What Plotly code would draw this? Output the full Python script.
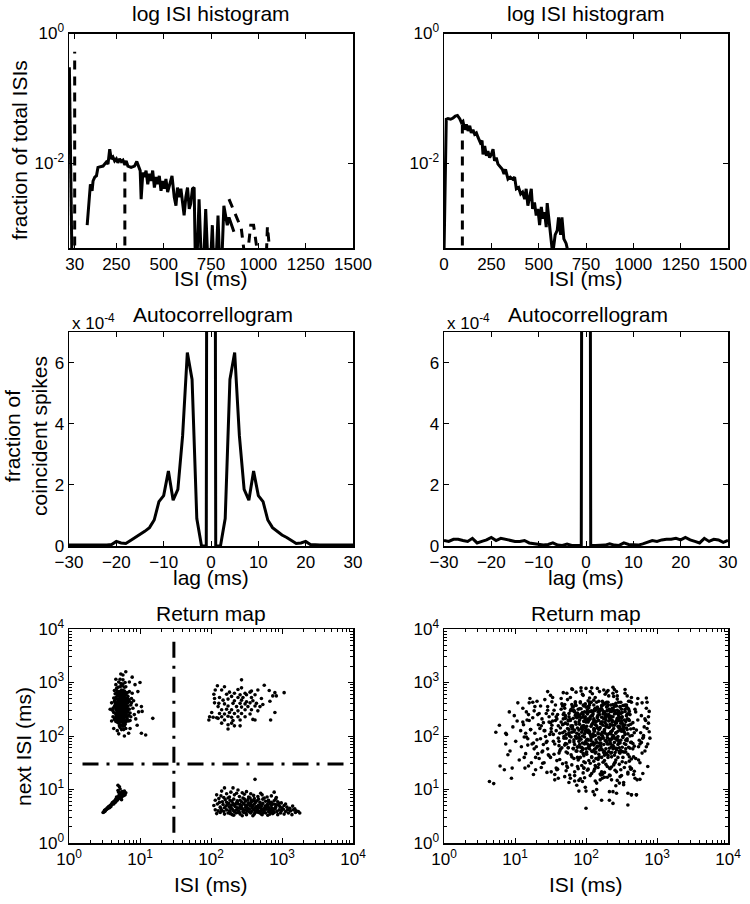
import plotly.graph_objects as go

FONT = "Liberation Sans, Arial, Helvetica, sans-serif"
W, H = 750, 904

# ---------------------------------------------------------------- data
# Top-left log ISI histogram: (ISI ms, log10 fraction of total ISIs)
hist1_burst = [(2, -0.52), (16, -3.6)]
hist1_main = [(96, -2.95), (113, -2.32), (122, -2.42), (127, -2.27), (136, -2.21), (145, -2.19),
              (153, -2.06), (166, -2.05), (180, -2.04), (197, -1.98), (206, -2.01), (215, -1.78),
              (223, -1.93), (232, -1.90), (241, -1.96), (250, -1.93), (258, -1.99), (267, -1.93),
              (276, -1.97), (285, -1.95), (293, -2.01), (302, -1.96), (311, -2.04), (328, -2.06),
              (346, -2.04), (358, -1.97), (369, -2.04), (376, -2.11), (381, -2.55), (390, -2.14),
              (398, -2.21), (407, -2.11), (416, -2.32), (425, -2.16), (433, -2.27), (442, -2.11),
              (451, -2.37), (460, -2.21), (468, -2.32), (477, -2.19), (486, -2.42), (495, -2.27),
              (503, -2.39), (512, -2.24), (521, -2.44), (530, -2.34), (544, -2.19), (556, -2.52),
              (565, -2.65), (573, -2.37), (582, -2.52), (591, -2.39), (600, -2.62), (608, -2.80),
              (617, -2.52), (626, -2.37), (635, -2.70), (643, -2.62), (652, -2.39), (661, -2.37),
              (670, -4.0), (687, -2.55), (705, -4.0), (722, -2.70), (740, -4.0), (757, -2.95),
              (770, -4.0), (787, -2.80), (801, -4.0), (818, -2.65), (836, -2.95), (845, -2.83),
              (871, -3.05)]
hist1_marker_a = [(30, -4.0), (30, -0.28)]
hist1_marker_b = [(295, -4.0), (295, -1.98)]
hist1_tail = [(845, -2.55), (881, -2.80), (910, -3.00), (935, -3.60), (960, -2.95), (975, -2.95),
              (992, -3.30), (1040, -3.60), (1048, -2.97), (1062, -3.40)]

# Top-right log ISI histogram
hist2_main = [(0, -3.4), (12, -1.32), (21, -1.31), (35, -1.32), (48, -1.30), (60, -1.27), (71, -1.26),
              (83, -1.31), (92, -1.37), (100, -1.35), (109, -1.48), (118, -1.40), (127, -1.50),
              (136, -1.42), (144, -1.53), (153, -1.48), (162, -1.55), (171, -1.53), (180, -1.60),
              (192, -1.68), (201, -1.65), (206, -1.86), (215, -1.73), (224, -1.88), (232, -1.81),
              (241, -1.91), (250, -1.86), (259, -1.78), (267, -1.96), (276, -1.91), (285, -2.01),
              (297, -2.06), (308, -2.09), (317, -2.16), (325, -2.09), (338, -2.24), (350, -2.21),
              (362, -2.24), (373, -2.21), (382, -2.39), (394, -2.37), (405, -2.47), (415, -2.44),
              (426, -2.55), (434, -2.39), (443, -2.65), (452, -2.50), (461, -2.39), (468, -2.70),
              (478, -2.60), (487, -2.80), (496, -2.70), (505, -2.95), (514, -2.67), (522, -2.85),
              (531, -2.75), (540, -2.98), (545, -2.61), (574, -3.4), (587, -3.10), (598, -3.03),
              (605, -2.83), (616, -3.10), (623, -2.83), (633, -3.16), (645, -3.23), (658, -3.4)]
hist2_marker = [(97, -4.0), (97, -1.35)]

hist_xticks_left = [30, 250, 500, 750, 1000, 1250, 1500]
hist_xticks_right = [0, 250, 500, 750, 1000, 1250, 1500]

# Autocorrellograms (fraction of coincident spikes, units of 1e-4)
lags = list(range(-30, 31))
ac1 = [0.03, 0.03, 0.02, 0.03, 0.03, 0.02, 0.03, 0.03, 0.03, 0.05, 0.15, 0.10, 0.08, 0.18,
       0.28, 0.36, 0.48, 0.60, 0.85, 1.45, 1.65, 2.45, 1.50, 1.85, 3.60, 6.33, 5.45, 0.90,
       0.0, 0.0, 100.0, 0.0, 0.0, 0.90, 5.45, 6.33, 3.60, 1.85, 1.50, 2.45, 1.65, 1.45, 0.85,
       0.60, 0.48, 0.36, 0.28, 0.18, 0.08, 0.10, 0.15, 0.05, 0.03, 0.03, 0.03, 0.02, 0.03,
       0.03, 0.02, 0.03, 0.03]
ac2 = [0.18, 0.15, 0.22, 0.22, 0.18, 0.15, 0.25, 0.10, 0.15, 0.20, 0.28, 0.18, 0.25, 0.22,
       0.20, 0.15, 0.15, 0.18, 0.10, 0.08, 0.04, 0.03, 0.05, 0.10, 0.03, 0.02, 0.06, 0.02,
       0.02, 0.02, 100.0, 0.02, 0.02, 0.02, 0.03, 0.07, 0.03, 0.02, 0.10, 0.05, 0.04, 0.03,
       0.07, 0.12, 0.18, 0.15, 0.20, 0.22, 0.22, 0.25, 0.20, 0.28, 0.20, 0.15, 0.10, 0.25,
       0.15, 0.22, 0.20, 0.12, 0.18]

# Return maps: (100*log10 ISI, 100*log10 next ISI)
rm1_cluster_a = [(74,255),(70,262),(78,248),(66,240),(81,270),(72,231),(76,285),(68,275),(83,256),(71,219),
    (79,228),(65,258),(73,298),(77,266),(69,246),(84,239),(62,252),(75,240),(80,292),(67,289),
    (72,270),(76,222),(70,236),(78,276),(64,265),(82,249),(74,212),(71,283),(79,259),(68,226),
    (73,246),(75,261),(69,253),(77,235),(66,272),(81,228),(70,301),(85,265),(63,244),(76,250),
    (72,259),(78,238),(74,277),(67,233),(80,214),(71,245),(75,296),(79,282),(65,279),(83,274),
    (73,226),(77,257),(70,268),(68,210),(82,236),(76,243),(74,264),(66,249),(80,253),(72,238),
    (87,258),(69,291),(78,266),(75,229),(71,254),(64,231),(79,245),(73,283),(77,212),(70,242),
    (84,228),(68,262),(76,271),(72,249),(81,261),(74,236),(67,256),(79,300),(86,243),(71,229),
    (75,252),(73,268),(78,219),(69,238),(82,281),(65,262),(76,258),(70,250),(80,240),(74,286),
    (88,270),(72,216),(77,247),(68,269),(83,251),(71,276),(75,234),(79,264),(66,227),(73,241),
    (90,252),(61,248),(76,305),(70,224),(78,255),(74,247),(69,281),(81,244),(72,263),(77,230),
    (85,283),(67,244),(75,268),(73,256),(80,226),(71,238),(79,271),(64,285),(82,265),(76,237),
    (92,240),(70,257),(74,229),(68,250),(78,291),(72,306),(86,229),(75,246),(69,232),(77,279),
    (88,262),(63,271),(73,220),(80,258),(71,264),(76,281),(84,268),(67,237),(79,235),(74,271),
    (95,258),(62,236),(89,280),(94,232),(66,296),(86,214),(63,214),(91,266),(85,301),(60,262),
    (118,233),(102,205),(108,202),(102,255),(103,246),(100,300),(89,310),(73,316),(76,314),(80,320),
    (66,306),(70,204),(78,200),(84,205),(60,228),(58,250),(97,283),(98,245),(96,220),(93,296),
    (73,250),(77,262),(70,244),(75,274),(72,227),(79,251),(68,258),(76,233),(81,255),(71,270),
    (74,242),(78,284),(69,265),(73,235),(76,265),(80,268),(67,252),(72,280),(77,224),(83,245),
    (70,230),(75,258),(79,276),(66,235),(74,294),(82,232),(71,260),(68,284),(77,242),(73,262),
    (85,250),(64,255),(78,230),(72,292),(76,218),(80,278),(69,226),(74,253),(81,236),(70,276),
    (87,236),(65,268),(76,297),(73,274),(79,222),(71,247),(75,227),(83,262),(67,280),(78,260)]
rm1_cluster_b = [(243,305),(209,294),(275,295),(219,292),(243,290),(206,286),(215,286),(238,287),
    (257,284),(266,286),(282,285),(290,281),(303,281),(226,282),(233,280),(248,280),(255,282),
    (204,278),(222,278),(241,277),(250,277),(262,277),(287,275),(292,275),(205,270),(212,272),
    (229,274),(238,272),(245,272),(257,272),(271,270),(217,267),(224,269),(233,266),(243,267),
    (250,264),(259,266),(283,265),(205,262),(211,261),(219,260),(231,261),(241,261),(248,260),
    (255,262),(264,261),(273,259),(210,255),(224,256),(236,255),(243,254),(252,255),(262,256),
    (269,255),(215,249),(222,250),(229,249),(238,247),(248,249),(257,249),(266,247),(201,244),
    (212,242),(219,241),(226,244),(233,242),(243,242),(255,241),(290,244),(198,236),(203,235),
    (208,234),(215,236),(224,237),(229,235),(238,236),(248,236),(259,231),(197,230),(210,233),
    (219,230),(231,229),(241,230),(262,230),(284,230),(215,224),(224,221),(233,219),(241,219),
    (229,224),(224,213)]
rm1_cluster_c = [(48,57),(49,58),(50,59),(50,61),(51,60),(52,62),(52,63),(53,63),(54,64),(54,66),
    (55,65),(56,67),(56,68),(57,68),(58,70),(58,69),(59,71),(60,72),(60,73),(61,73),(61,75),(62,74),
    (62,76),(63,76),(63,77),(64,78),(64,76),(65,79),(65,80),(66,79),(66,82),(67,81),(67,83),(68,82),
    (68,85),(69,84),(69,86),(70,85),(70,87),(71,86),(71,88),(72,87),(72,89),(73,88),(73,91),(74,89),
    (74,92),(75,90),(75,93),(76,91),(76,94),(77,92),(77,89),(78,93),(72,84),(74,86),(70,83),(76,88),
    (73,85),(68,80),(66,77),(71,91),(75,96),(78,97),(70,95),(69,98),(77,95),(80,94),(73,94),(74,81),
    (79,90),(67,86),(63,73),(59,68),(57,66),(65,76),(69,108),(71,105),(72,101)]
rm1_cluster_d = [(219,103),(231,103),(262,119),(238,99),(215,97),(250,96),(228,95),(270,93),(244,94),(289,95),
    (208,90),(214,88),(222,92),(226,86),(233,90),(240,87),(247,91),(253,86),(260,89),(266,87),(272,90),
    (279,86),(285,88),(218,85),(236,93),(256,92),(292,85),
    (206,80),(211,83),(216,77),(220,81),(224,84),(229,78),(232,82),(237,76),(241,80),(245,84),(249,78),
    (252,81),(257,77),(261,83),(265,79),(269,76),(273,82),(277,78),(281,80),(285,76),(289,79),(294,77),
    (299,75),(212,76),(227,80),(243,77),(255,84),(263,76),(275,84),(291,82),
    (204,70),(209,73),(213,67),(217,72),(221,69),(225,74),(228,66),(231,71),(234,68),(238,73),(240,66),
    (243,70),(246,74),(249,67),(252,72),(255,69),(258,65),(261,73),(264,68),(267,71),(270,66),(273,74),
    (276,69),(279,72),(282,66),(285,70),(288,73),(291,67),(294,71),(297,68),(300,66),(303,70),(307,67),
    (311,65),(315,69),(219,66),(236,75),(248,71),(259,70),(271,69),(283,74),(296,74),(305,73),(223,71),
    (265,65),(253,75),
    (206,62),(210,60),(214,64),(218,59),(222,62),(226,60),(229,64),(233,59),(236,62),(239,60),(242,64),
    (245,59),(248,62),(251,60),(254,63),(257,59),(260,62),(263,60),(266,64),(269,59),(272,62),(275,60),
    (278,63),(281,59),(284,62),(287,60),(290,63),(293,59),(296,62),(299,60),(302,63),(305,59),(308,62),
    (312,60),(316,62),(320,60),(323,59),(215,61),(227,58),(240,57),(252,64),(264,58),(276,65),(288,58),
    (300,64),(318,64),
    (208,55),(213,57),(219,54),(224,56),(230,53),(235,56),(241,54),(246,57),(250,53),(256,56),(261,54),
    (267,57),(272,53),(277,56),(283,54),(289,57),(294,53),(298,56),(303,54),(309,56),(314,53),(319,57),
    (325,56),(232,52),(259,51),(280,52),(244,51),(270,55),(287,55),(227,55),
    (226,67),(230,63),(234,72),(238,57),(242,67),(246,61),(250,70),(254,58),(258,68),(262,66),(266,61),
    (270,72),(274,57),(278,67),(282,63),(286,65),(228,70),(232,60),(237,66),(244,65),(249,56),(256,73),
    (262,57),(268,67),(274,64),(280,70),(284,57),(290,65),(237,79),(247,82),(257,80),(267,82),(222,76),
    (231,74),(241,72),(251,66),(261,79),(271,61),(281,77),(291,72)]
rm_threshold_ms = 30
rm_threshold_span = [1.55, 7800]

rm2_cloud = [
    (64,115),(70,111),(73,207),(78,220),(87,205),(88,203),(87,185),(90,165),(79,144),(85,137),(92,245),(97,217),
    (93,172),(96,140),(99,238),(101,190),(104,262),(106,155),(108,210),(95,121),(103,228),(109,180),
    (111,252),(113,198),(115,167),(117,230),(119,144),(121,270),(122,212),(124,185),(126,128),(127,247),
    (129,160),(112,221),(118,195),(125,234),(128,205),(114,140),(120,262),
    (131,265),(146,248),(138,232),(133,221),(142,210),(149,203),(136,195),(144,188),(130,180),(139,172),
    (147,165),(134,158),(141,150),(137,141),(145,132),(132,240),(148,226),(135,214),(143,199),(140,184),
    (138,170),(146,255),
    (153,272),(165,250),(158,236),(168,222),(151,208),(161,196),(156,185),(163,172),(150,160),(167,148),
    (160,138),(152,264),(169,243),(157,229),(164,215),(154,203),(162,190),(166,178),(155,166),(159,154),
    (156,128),(167,256),(151,214),(162,182),(159,232),(169,199),(153,241),(164,175),(158,140),(150,225),
    (173,280),(185,262),(178,247),(188,235),(171,224),(181,213),(176,203),(183,193),(170,183),(187,172),
    (180,161),(172,150),(189,139),(177,127),(184,116),(174,268),(182,254),(186,240),(175,228),(179,217),
    (176,206),(187,196),(171,186),(182,176),(179,165),(189,155),(173,144),(184,133),(178,121),(170,259),
    (184,245),(175,230),(181,219),(170,209),(186,199),(177,189),(188,179),(172,170),(183,158),(180,146),
    (174,222),(179,198),(186,236),(181,287),(187,108),
    (193,284),(205,271),(198,258),(208,247),(191,237),(201,228),(196,219),(203,211),(190,203),(207,195),
    (200,187),(192,179),(209,171),(197,163),(204,154),(194,145),(202,136),(206,126),(195,115),(199,104),
    (196,276),(207,263),(191,251),(202,241),(199,232),(209,223),(193,214),(204,206),(198,198),(190,190),
    (204,182),(195,174),(201,166),(190,158),(206,149),(197,140),(208,130),(192,120),(203,266),(200,254),
    (201,244),(193,234),(210,225),(198,216),(205,208),(195,200),(203,192),(207,184),(196,176),(200,168),
    (192,160),(197,152),(194,217),(206,203),(199,189),(189,240),(203,226),(208,161),(200,212),(200,97),
    (216,289),(227,278),(211,267),(222,256),(219,246),(229,237),(213,228),(224,220),(218,212),(210,204),
    (224,196),(215,188),(221,180),(210,172),(226,164),(217,156),(228,147),(212,138),(223,128),(220,118),
    (213,272),(225,261),(218,250),(228,241),(211,232),(221,223),(216,215),(223,207),(210,199),(227,191),
    (220,183),(212,175),(229,167),(217,159),(224,151),(214,142),(222,133),(226,123),(215,112),(219,283),
    (217,229),(228,218),(212,209),(223,201),(220,193),(230,185),(214,177),(225,169),(219,161),(211,153),
    (225,244),(216,236),(222,226),(211,214),(227,205),(218,197),(229,189),(213,252),(224,262),(221,176),
    (215,100),(220,129),(225,286),(214,158),(227,233),
    (240,287),(232,275),(249,263),(237,252),(244,242),(234,233),(242,224),(246,216),(235,208),(239,200),
    (233,192),(245,184),(238,176),(248,168),(231,160),(241,151),(236,142),(243,133),(230,123),(247,112),
    (244,269),(235,258),(241,247),(230,238),(246,229),(237,220),(248,212),(232,204),(243,196),(240,188),
    (236,180),(247,172),(231,164),(242,155),(239,146),(249,137),(233,127),(244,117),(238,280),(230,255),
    (241,226),(233,217),(250,209),(238,201),(245,193),(235,185),(243,177),(247,169),(236,161),(240,149),
    (232,240),(236,230),(240,196),(244,248),(248,215),(234,139),(242,107),(246,186),(238,96),(250,228),
    (264,272),(255,258),(261,246),(250,235),(266,225),(257,215),(268,206),(252,197),(263,188),(260,179),
    (256,170),(267,161),(251,152),(262,142),(259,132),(269,121),(253,109),(264,263),(258,241),(250,226),
    (253,211),(265,201),(258,191),(268,181),(251,171),(261,161),(256,150),(263,138),(250,126),(267,214),
    (260,231),(252,219),(269,250),(257,193),(264,157),(254,186),(262,265),(266,176),(255,203),(259,166),
    (253,113),(259,93),(264,90),(255,280),(262,240),
    (273,270),(285,252),(278,238),(288,224),(271,211),(281,198),(276,185),(283,172),(270,158),(287,143),
    (280,130),(272,118),(289,246),(277,206),(284,229),(274,180),(282,217),(286,263),(275,192),(279,168),
    (285,271),(287,185),(276,150),(271,90),(280,196),
    (200,65),(210,96),(212,90),(222,80),(233,96),(233,80),(238,74),(243,93),(259,71),(264,90),(271,90),(190,97),
    (178,231),(183,248),(188,215),(192,262),(197,227),(202,249),(206,236),(211,258),(215,219),(219,240),
    (223,248),(227,225),(231,263),(235,237),(239,214),(243,256),(247,233),(251,244),(255,221),(259,252),
    (180,207),(185,239),(190,226),(195,244),(199,209),(204,229),(209,245),(213,221),(218,265),(222,235),
    (226,210),(230,247),(234,222),(238,259),(242,206),(246,238),(250,250),(254,230),(258,212),(181,255),
    (186,222),(191,197),(196,235),(201,218),(205,258),(210,241),(214,226),(217,204),(221,251),(225,232),
    (229,217),(233,250),(237,229),(241,243),(245,209),(249,224),(253,257),(257,238),(176,242),(184,211),
    (189,250),(194,207),(198,245),(203,232),(207,218),(212,250),(216,234),(220,216),(224,258),(228,240),
    (232,228),(236,246),(240,220),(244,233),(248,254),(252,210),(256,227),(182,233),(187,205),(193,241),
    (197,256),(202,207),(206,246),(211,229),(215,251),(219,213),(223,226),(227,260),(231,238),(235,204),
    (239,247),(243,225),(247,218),(251,236),(255,246),(260,220),(179,219),(185,258),(190,236),(195,212),
    (200,226),(204,253),(208,238),(212,213),(217,245),(221,224),(225,207),(229,254),(233,233),(237,210),
    (241,258),(245,229),(249,242),(253,219),(257,255),(177,200),(183,189),(188,180),(193,194),(198,185),
    (203,178),(207,191),(212,186),(216,181),(221,195),(225,184),(230,197),(234,189),(238,182),(243,194),
    (247,188),(251,179),(256,192),(186,172),(191,184),(196,167),(201,193),(205,176),(210,188),(214,170),
    (219,187),(223,174),(228,192),(232,171),(236,194),(241,177),(245,160),(249,192),(253,170),(208,160),
    (218,166),(226,154),(235,168),(199,150),(213,145),(222,160),(240,164),(230,143),(188,160),
    (160,240),(165,226),(170,252),(174,214),(163,205),(168,232),(172,196),(166,260),(161,219),(171,238),
    (155,248),(158,210),(148,236),(152,220),(144,242),(140,225),(175,178),(162,168),(154,190),(146,176),
    (115,205),(283,232),(142,268),(198,122),(255,287),(127,176),(236,118),(168,281),(274,155),(151,133),
    (209,279),(119,240),(262,200),(184,126),(231,285),(137,219),(289,208),(176,113),(244,275),(123,150),
    (268,134),(157,258),(213,116),(279,262),(131,193),(248,124),(193,290),(111,226),(226,132),(161,121),
    (285,180),(146,283),(203,138),(259,129),(125,263),(172,135),(238,291),(134,242),(276,119),(188,143),
    (118,183),(252,160),(165,270),(221,127),(288,236),(141,210),(196,131),(270,245),(129,137),(233,140),
    (180,288),(266,186),(148,163),(206,283),(113,160),(241,136),(159,137),(281,201),(136,256),(217,141),
    (190,117),(258,275),(122,212),(229,282),(170,124),(272,260),(153,228),(200,289),(126,187),(247,147),
    (139,149),(286,214),(178,272),(211,134),(264,139),(116,245),(197,140),(239,274),(150,276),(223,121),
    (278,188),(132,167),(186,282),(254,141),(163,156),(116,198),(208,290),(273,230),(145,190),(234,126),
    (120,229),(261,153),(174,141),(243,283),(156,118),(290,196),(218,147),(128,255),(195,278),(267,128),
    (171,233),(248,187),(205,262),(226,171),(183,208),(259,241),(194,179),(237,226),(216,254),(177,191),
    (263,213),(201,170),(230,248),(188,243),(252,199),(210,185),(242,261),(167,221),(221,203),(256,176),
    (185,264),(233,194),(199,236),(246,246),(213,168),(179,250),(261,229),(207,199),(239,180),(191,222),
    (223,265),(253,216),(182,177),(217,239),(249,173),(196,258),(235,207),(169,196),(228,230),(205,181),
    (257,258),(187,234),(244,192),(212,247),(176,212),(264,188),(219,174),(198,204),(240,241),(222,257),
    (174,168),(250,233),(208,221),(232,185),(193,251),(259,204),(214,193),(185,226),(246,263),(226,212),
    (203,244),(236,169),(190,196),(255,250),(168,240),(218,229),(242,205),(200,176),(229,263),(180,259),
    (262,177),(211,211),(238,236),(195,187),(224,197),(251,224),(184,184),(215,263),(234,246),(206,232),
    (172,203),(245,218),(220,182),(192,264),(258,195),(229,221),(203,255),(247,178),(178,229),(213,201),
    (240,255),(187,172),(226,245),(254,207),(197,219),(233,177),(209,238),(182,247),(260,265),(219,215),
    (173,185),(243,229),(202,194),(231,258),(190,211),(256,184),(214,249),(237,197),(196,240),(221,187),
    (169,257),(249,243),(208,172),(227,237),(185,199),(263,222),(217,206),(241,169),(199,260),(232,216),
    (176,236),(252,257),(211,183),(235,231),(193,171),(258,232),(222,251),(204,209),(245,199),(181,217),
    (228,176),(167,206),(238,251),(214,227),(189,238),(255,170),(219,196),(197,228),(248,255),(230,202),
    (186,257),(207,263),(250,212),(175,178),(224,241),(202,185),(243,174),(191,230),(260,250),(216,180)]

rm_ticks = [1, 10, 100, 1000, 10000]
rm_ticktext = ["10<sup>0</sup>", "10<sup>1</sup>", "10<sup>2</sup>", "10<sup>3</sup>", "10<sup>4</sup>"]
rm_minor = [m * d for d in (1, 10, 100, 1000) for m in range(2, 10)]

# ---------------------------------------------------------------- helpers
def unzip(pairs):
    return [p[0] for p in pairs], [p[1] for p in pairs]


def unlog(vals):
    return [10 ** v for v in vals]


def unlog100(vals):
    return [10 ** (v / 100.0) for v in vals]


fig = go.Figure()

cols = [(69, 353), (444, 728)]
rows = [(33.5, 248), (332, 546), (629, 843)]


def xdom(c):
    return [cols[c][0] / W, cols[c][1] / W]


def ydom(r):
    return [1 - rows[r][1] / H, 1 - rows[r][0] / H]


tickfont = dict(family=FONT, size=17, color="black")
base_axis = dict(showline=True, linecolor="black", linewidth=1.5, mirror="ticks",
                 ticks="inside", ticklen=5, tickwidth=1, tickcolor="black",
                 showgrid=False, zeroline=False, tickfont=tickfont, automargin=False)

LINE = dict(color="black", width=3)
DASH = dict(color="black", width=3, dash="9px,7px")

# --- top-left histogram
for pairs, style in [(hist1_burst, LINE), (hist1_main, LINE), (hist1_marker_a, DASH),
                     (hist1_marker_b, DASH), (hist1_tail, DASH)]:
    xs, ys = unzip(pairs)
    fig.add_trace(go.Scatter(x=xs, y=unlog(ys), mode="lines", line=style,
                             xaxis="x", yaxis="y", showlegend=False, hoverinfo="skip"))
# --- top-right histogram
for pairs, style in [(hist2_main, LINE), (hist2_marker, DASH)]:
    xs, ys = unzip(pairs)
    fig.add_trace(go.Scatter(x=xs, y=unlog(ys), mode="lines", line=style,
                             xaxis="x2", yaxis="y2", showlegend=False, hoverinfo="skip"))
# --- autocorrellograms
fig.add_trace(go.Scatter(x=lags, y=ac1, mode="lines", line=LINE, xaxis="x3", yaxis="y3",
                         showlegend=False, hoverinfo="skip"))
fig.add_trace(go.Scatter(x=lags, y=ac2, mode="lines", line=LINE, xaxis="x4", yaxis="y4",
                         showlegend=False, hoverinfo="skip"))
# --- return maps
DOT = dict(color="black", size=3.6, line=dict(width=0))
for cl in [rm1_cluster_a, rm1_cluster_b, rm1_cluster_c, rm1_cluster_d]:
    xs, ys = unzip(cl)
    fig.add_trace(go.Scatter(x=unlog100(xs), y=unlog100(ys), mode="markers", marker=DOT,
                             xaxis="x5", yaxis="y5", showlegend=False, hoverinfo="skip"))
DASHDOT = dict(color="black", width=3, dash="16px,8px,3px,8px")
fig.add_trace(go.Scatter(x=rm_threshold_span, y=[rm_threshold_ms, rm_threshold_ms], mode="lines",
                         line=DASHDOT, xaxis="x5", yaxis="y5", showlegend=False, hoverinfo="skip"))
fig.add_trace(go.Scatter(x=[rm_threshold_ms, rm_threshold_ms], y=rm_threshold_span, mode="lines",
                         line=DASHDOT, xaxis="x5", yaxis="y5", showlegend=False, hoverinfo="skip"))
xs, ys = unzip(rm2_cloud)
fig.add_trace(go.Scatter(x=unlog100(xs), y=unlog100(ys), mode="markers", marker=DOT,
                         xaxis="x6", yaxis="y6", showlegend=False, hoverinfo="skip"))

# ---------------------------------------------------------------- axes
hist_y = dict(base_axis, type="log", range=[-3.301, 0], tickmode="array",
              tickvals=[0.01, 1], ticktext=["10<sup>-2</sup>", "10<sup>0</sup>"])
ac_x = dict(base_axis, range=[-30, 30], tickmode="array", tickvals=[-30, -20, -10, 0, 10, 20, 30],
            ticktext=["\u221230", "\u221220", "\u221210", "0", "10", "20", "30"])
ac_y = dict(base_axis, range=[0, 7], tickmode="array", tickvals=[0, 2, 4, 6])
rm_axis = dict(base_axis, type="log", range=[0, 4], tickmode="array", tickvals=rm_ticks,
               ticktext=rm_ticktext,
               minor=dict(ticks="inside", ticklen=3, tickwidth=1, tickcolor="black",
                          tickmode="array", tickvals=rm_minor, showgrid=False))

fig.update_layout(
    width=W, height=H, autosize=False,
    margin=dict(l=0, r=0, t=0, b=0, pad=0, autoexpand=False),
    showlegend=False,
    paper_bgcolor="white", plot_bgcolor="white",
    font=dict(family=FONT, color="black"),
    xaxis=dict(base_axis, domain=xdom(0), anchor="y", range=[0, 1500], tickmode="array",
               tickvals=hist_xticks_left),
    yaxis=dict(hist_y, domain=ydom(0), anchor="x"),
    xaxis2=dict(base_axis, domain=xdom(1), anchor="y2", range=[0, 1500], tickmode="array",
                tickvals=hist_xticks_right),
    yaxis2=dict(hist_y, domain=ydom(0), anchor="x2"),
    xaxis3=dict(ac_x, domain=xdom(0), anchor="y3"),
    yaxis3=dict(ac_y, domain=ydom(1), anchor="x3"),
    xaxis4=dict(ac_x, domain=xdom(1), anchor="y4"),
    yaxis4=dict(ac_y, domain=ydom(1), anchor="x4"),
    xaxis5=dict(rm_axis, domain=xdom(0), anchor="y5"),
    yaxis5=dict(rm_axis, domain=ydom(2), anchor="x5"),
    xaxis6=dict(rm_axis, domain=xdom(1), anchor="y6"),
    yaxis6=dict(rm_axis, domain=ydom(2), anchor="x6"),
)

# ---------------------------------------------------------------- text
def ann(text, xpx, ypx, size=21, angle=0, xanchor="center"):
    fig.add_annotation(text=text, x=xpx / W, y=1 - ypx / H, xref="paper", yref="paper",
                       showarrow=False, textangle=angle, xanchor=xanchor, yanchor="middle",
                       font=dict(family=FONT, size=size, color="black"))


for c in range(2):
    cx = (cols[c][0] + cols[c][1]) / 2
    ann("log ISI histogram", cx, 14)
    ann("ISI (ms)", cx, 278)
    ann("Autocorrellogram", cx + 2, 315)
    ann("lag (ms)", cx, 577)
    ann("Return map", cx, 613)
    ann("ISI (ms)", cx, 884)
    ann("x 10<sup>-4</sup>", cols[c][0] + 1, 322, size=17, xanchor="left")

ann("fraction of total ISIs", 20, 150, angle=-90)
ann("fraction of<br>coincident spikes", 26, 436, angle=-90)
ann("next ISI (ms)", 23, 747, angle=-90)

fig.write_html("out.html",
               config={"displayModeBar": False, "staticPlot": True},
               post_script="document.body.style.margin='0px';document.body.style.overflow='hidden';")
